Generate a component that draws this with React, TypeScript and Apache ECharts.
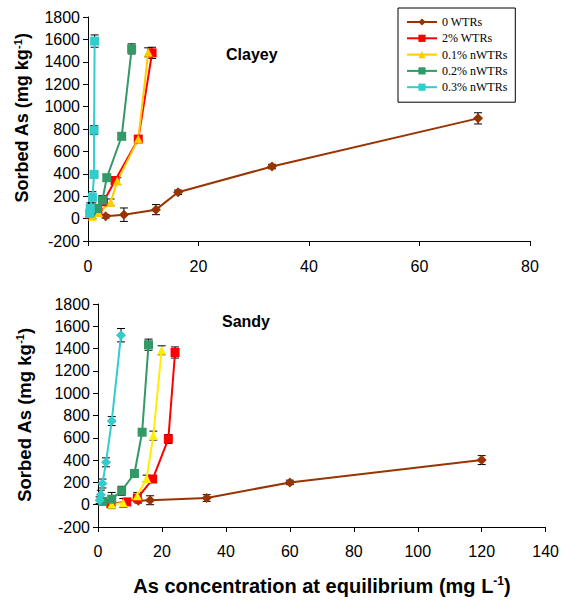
import React, { useEffect, useRef } from "react";
import * as echarts from "echarts";

const seriesNames = ["0 WTRs", "2% WTRs", "0.1% nWTRs", "0.2% nWTRs", "0.3% nWTRs"];
const topColors = ["#993300", "#FF0000", "#FFCC00", "#339966", "#33CCCC"];
const bottomColors = ["#993300", "#FF0000", "#FFEE00", "#339966", "#33CCCC"];
const topSymbols = ["diamond", "rect", "triangle", "rect", "rect"];
const bottomSymbols = ["diamond", "rect", "triangle", "rect", "diamond"];

// Clayey
const clayX0 = [3.2, 6.5, 12.3, 16.3, 33.3, 70.6];
const clayY0 = [20, 35, 80, 235, 465, 895];
const clayE0 = [15, 60, 45, 20, 20, 50];
const clayX2 = [0.5, 1.8, 2.8, 4.9, 9.1, 11.6];
const clayY2 = [40, 60, 150, 340, 710, 1480];
const clayE2 = [20, 20, 30, 30, 30, 50];
const clayX01 = [0.8, 1.9, 4.1, 5.3, 9.1, 10.9];
const clayY01 = [20, 55, 145, 335, 710, 1485];
const clayE01 = [20, 20, 30, 30, 30, 40];
const clayX02 = [0.5, 1.7, 2.6, 3.4, 6.1, 7.9];
const clayY02 = [60, 90, 165, 365, 735, 1515];
const clayE02 = [30, 30, 40, 30, 30, 45];
const clayX03 = [0.3, 0.4, 0.8, 1.1, 1.1, 1.2];
const clayY03 = [45, 90, 190, 395, 790, 1585];
const clayE03 = [30, 50, 50, 30, 40, 55];

// Sandy
const sandX0 = [12.6, 16.3, 34, 60, 120];
const sandY0 = [35, 40, 60, 200, 400];
const sandE0 = [20, 40, 30, 20, 40];
const sandX2 = [4, 9, 12.3, 17.1, 22, 24.1];
const sandY2 = [10, 25, 60, 230, 590, 1365];
const sandE2 = [20, 20, 20, 20, 40, 50];
const sandX01 = [4.3, 7.9, 12.3, 15.2, 17.3, 19.9];
const sandY01 = [5, 15, 80, 235, 620, 1385];
const sandE01 = [40, 40, 30, 30, 40, 40];
const sandX02 = [1.5, 4.3, 7.4, 11.4, 13.8, 15.8];
const sandY02 = [30, 50, 125, 280, 650, 1435];
const sandE02 = [30, 60, 40, 20, 20, 50];
const sandX03 = [0.5, 0.9, 1.4, 2.5, 4.3, 7.2];
const sandY03 = [40, 90, 190, 380, 750, 1520];
const sandE03 = [30, 40, 40, 40, 40, 60];

const clayX = [clayX0, clayX2, clayX01, clayX02, clayX03];
const clayY = [clayY0, clayY2, clayY01, clayY02, clayY03];
const clayE = [clayE0, clayE2, clayE01, clayE02, clayE03];
const sandX = [sandX0, sandX2, sandX01, sandX02, sandX03];
const sandY = [sandY0, sandY2, sandY01, sandY02, sandY03];
const sandE = [sandE0, sandE2, sandE01, sandE02, sandE03];

const FONT = "Liberation Sans, Arial, sans-serif";

function errRender(params: any, api: any) {
  const x = api.value(0);
  const lo = api.value(1);
  const hi = api.value(2);
  const a = api.coord([x, lo]);
  const b = api.coord([x, hi]);
  const w = 4;
  const st = { stroke: "#000", lineWidth: 1 };
  return {
    type: "group",
    children: [
      { type: "line", shape: { x1: a[0], y1: a[1], x2: b[0], y2: b[1] }, style: st },
      { type: "line", shape: { x1: a[0] - w, y1: a[1], x2: a[0] + w, y2: a[1] }, style: st },
      { type: "line", shape: { x1: b[0] - w, y1: b[1], x2: b[0] + w, y2: b[1] }, style: st },
    ],
  };
}

function buildSeries(xs: number[][], ys: number[][], es: number[][], idx: number, colors: string[], symbols: string[]) {
  const out: any[] = [];
  for (let i = 0; i < xs.length; i++) {
    out.push({
      type: "custom",
      xAxisIndex: idx,
      yAxisIndex: idx,
      renderItem: errRender,
      encode: { x: 0, y: [1, 2] },
      data: xs[i].map((x, j) => [x, ys[i][j] - es[i][j], ys[i][j] + es[i][j]]),
      z: 1,
      silent: true,
    });
  }
  for (let i = 0; i < xs.length; i++) {
    out.push({
      type: "line",
      name: seriesNames[i],
      xAxisIndex: idx,
      yAxisIndex: idx,
      data: xs[i].map((x, j) => [x, ys[i][j]]),
      symbol: symbols[i],
      symbolSize: symbols[i] === "diamond" ? 10 : 9,
      showSymbol: true,
      lineStyle: { color: colors[i], width: 2 },
      itemStyle: { color: colors[i] },
      z: 2,
    });
  }
  return out;
}

function axisCommon(margin: number) {
  return {
    axisLine: { onZero: false, lineStyle: { color: "#000", width: 1 } },
    axisTick: { show: true, length: 5, lineStyle: { color: "#000" } },
    splitLine: { show: false },
    axisLabel: { color: "#000", fontFamily: FONT, fontSize: 16, margin, formatter: (v: number) => String(v) },
  };
}

export default function App() {
  const ref = useRef<HTMLDivElement>(null);
  useEffect(() => {
    if (!ref.current) return;
    const chart = echarts.init(ref.current, null, { renderer: "svg" });
    const yRich = {
      a: { fontFamily: FONT, fontSize: 18, fontWeight: "bold", color: "#000" },
      s: { fontFamily: FONT, fontSize: 11, fontWeight: "bold", color: "#000", padding: [0, 0, 9, 0] },
    };
    const yRich2 = {
      a: { fontFamily: FONT, fontSize: 18.5, fontWeight: "bold", color: "#000" },
      s: { fontFamily: FONT, fontSize: 11, fontWeight: "bold", color: "#000", padding: [0, 0, 9, 0] },
    };
    const xRich = {
      a: { fontFamily: FONT, fontSize: 20, fontWeight: "bold", color: "#000" },
      s: { fontFamily: FONT, fontSize: 12, fontWeight: "bold", color: "#000", padding: [0, 0, 10, 0] },
    };
    const option: any = {
      animation: false,
      backgroundColor: "#fff",
      grid: [
        { left: 88, top: 17, width: 442, height: 224 },
        { left: 98, top: 304, width: 448, height: 223 },
      ],
      xAxis: [
        { type: "value", gridIndex: 0, min: 0, max: 80, interval: 20, ...axisCommon(17) },
        { type: "value", gridIndex: 1, min: 0, max: 140, interval: 20, ...axisCommon(16) },
      ],
      yAxis: [
        { type: "value", gridIndex: 0, min: -200, max: 1800, interval: 200, ...axisCommon(8) },
        { type: "value", gridIndex: 1, min: -200, max: 1800, interval: 200, ...axisCommon(8) },
      ],
      legend: {
        data: seriesNames,
        orient: "vertical",
        left: 398,
        top: 8,
        itemWidth: 30,
        itemHeight: 9,
        itemGap: 4.3,
        padding: [8, 8, 9, 8],
        borderColor: "#000",
        borderWidth: 1,
        backgroundColor: "#fff",
        textStyle: { fontFamily: "Liberation Serif, Times New Roman, serif", fontSize: 12, color: "#000" },
      },
      graphic: [
        { type: "text", left: 226, top: 46, style: { text: "Clayey", font: "bold 16px " + FONT, fill: "#000" } },
        { type: "text", left: 222, top: 313, style: { text: "Sandy", font: "bold 16px " + FONT, fill: "#000" } },
        {
          type: "text", x: 22, y: 118, rotation: Math.PI / 2,
          style: { text: "{a|Sorbed As (mg kg}{s|-1}{a|)}", rich: yRich, align: "center", verticalAlign: "middle" },
        },
        {
          type: "text", x: 24, y: 415, rotation: Math.PI / 2,
          style: { text: "{a|Sorbed As (mg kg}{s|-1}{a|)}", rich: yRich2, align: "center", verticalAlign: "middle" },
        },
        {
          type: "text", x: 322, y: 586,
          style: { text: "{a|As concentration at equilibrium (mg L}{s|-1}{a|)}", rich: xRich, align: "center", verticalAlign: "middle" },
        },
      ],
      series: [
        ...buildSeries(clayX, clayY, clayE, 0, topColors, topSymbols),
        ...buildSeries(sandX, sandY, sandE, 1, bottomColors, bottomSymbols),
      ],
    };
    chart.setOption(option);
    return () => chart.dispose();
  }, []);
  return <div ref={ref} style={{ position: "fixed", left: 0, top: 0, width: 562, height: 601, background: "#fff" }} />;
}
